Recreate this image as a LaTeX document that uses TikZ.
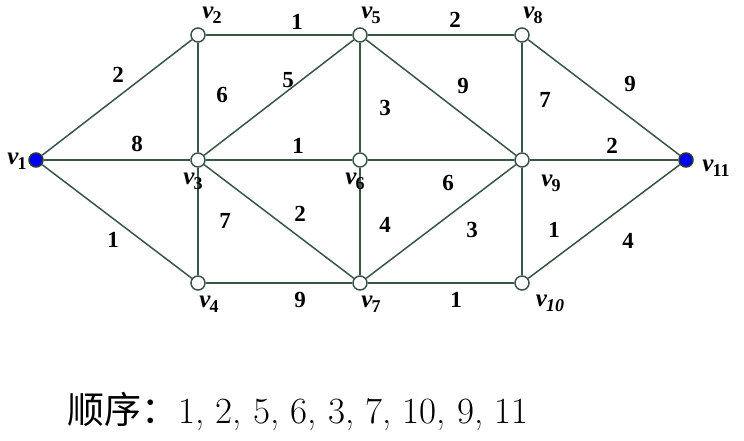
\documentclass[tikz,border=0pt]{standalone}
\usepackage{fontspec}
\newfontfamily\timesfont{Liberation Serif}
\newfontfamily\cjk{Noto Sans CJK SC}
\definecolor{edgegreen}{RGB}{58,84,70}
\definecolor{endblue}{RGB}{0,0,240}
\newcommand{\vlab}[1]{v\kern-1pt\raisebox{-5pt}{\fontsize{18}{18}\selectfont\upshape #1}}
\tikzset{
  vertex/.style={circle, draw=edgegreen, line width=1.5pt, fill=white, inner sep=0pt, minimum size=14pt},
  endvertex/.style={vertex, fill=endblue, draw=edgegreen!70!black},
  weight/.style={font=\timesfont\fontsize{23}{23}\selectfont\bfseries},
  vname/.style={inner sep=0.5pt, font=\timesfont\fontsize{25}{25}\selectfont\bfseries\itshape}
}
\begin{document}
\begin{tikzpicture}[x=1pt, y=-1pt]
    \useasboundingbox (0,0) rectangle (744,440);

    % Vertices
    \node[endvertex] (v1) at (36,160) {};
    \node[vertex] (v2) at (198,35) {};
    \node[vertex] (v3) at (198,160) {};
    \node[vertex] (v4) at (198,283) {};
    \node[vertex] (v5) at (360,35) {};
    \node[vertex] (v6) at (360,160) {};
    \node[vertex] (v7) at (360,283) {};
    \node[vertex] (v8) at (522,35) {};
    \node[vertex] (v9) at (522,160) {};
    \node[vertex] (v10) at (522,283) {};
    \node[endvertex] (v11) at (686,160) {};

    % Edges
    \begin{scope}[edgegreen, line width=1.5pt]
    \draw (v1) -- (v2);
    \draw (v1) -- (v3);
    \draw (v1) -- (v4);
    \draw (v2) -- (v5);
    \draw (v2) -- (v3);
    \draw (v3) -- (v5);
    \draw (v3) -- (v6);
    \draw (v3) -- (v4);
    \draw (v3) -- (v7);
    \draw (v4) -- (v7);
    \draw (v5) -- (v6);
    \draw (v5) -- (v8);
    \draw (v5) -- (v9);
    \draw (v6) -- (v9);
    \draw (v6) -- (v7);
    \draw (v7) -- (v9);
    \draw (v7) -- (v10);
    \draw (v8) -- (v9);
    \draw (v8) -- (v11);
    \draw (v9) -- (v11);
    \draw (v9) -- (v10);
    \draw (v10) -- (v11);
    \end{scope}

    % Weights
    \node[weight] (w12) at (118,75) {2};
    \node[weight] (w13) at (137,144) {8};
    \node[weight] (w14) at (113,240) {1};
    \node[weight] (w25) at (297,22) {1};
    \node[weight] (w23) at (222,95) {6};
    \node[weight] (w35) at (288,80) {5};
    \node[weight] (w36) at (298,146) {1};
    \node[weight] (w34) at (225,221) {7};
    \node[weight] (w37) at (300,214) {2};
    \node[weight] (w47) at (300,300) {9};
    \node[weight] (w56) at (385,108) {3};
    \node[weight] (w58) at (455,20) {2};
    \node[weight] (w59) at (463,86) {9};
    \node[weight] (w69) at (448,183) {6};
    \node[weight] (w67) at (385,225) {4};
    \node[weight] (w79) at (472,230) {3};
    \node[weight] (w710) at (456,300) {1};
    \node[weight] (w89) at (545,100) {7};
    \node[weight] (w811) at (630,84) {9};
    \node[weight] (w911) at (612,146) {2};
    \node[weight] (w910) at (554,230) {1};
    \node[weight] (w1011) at (628,241) {4};

    % Vertex names
    \node[vname] (n1) at (17,161) {\vlab{1}};
    \node[vname] (n2) at (212,15) {\vlab{2}};
    \node[vname] (n3) at (193,181) {\vlab{3}};
    \node[vname] (n4) at (209,304) {\vlab{4}};
    \node[vname] (n5) at (371,15) {\vlab{5}};
    \node[vname] (n6) at (355,181) {\vlab{6}};
    \node[vname] (n7) at (371,304) {\vlab{7}};
    \node[vname] (n8) at (533,15) {\vlab{8}};
    \node[vname] (n9) at (551,183) {\vlab{9}};
    \node[vname] (n10) at (550,303) {v\kern-1pt\raisebox{-5pt}{\fontsize{18}{18}\selectfont 10}};
    \node[vname] (n11) at (716,168) {\vlab{11}};

    % Order
    \node[anchor=west, font=\fontsize{37}{37}\selectfont] (order) at (64,411) {{\cjk 顺序：}1, 2, 5, 6, 3, 7, 10, 9, 11};
\end{tikzpicture}
\end{document}
